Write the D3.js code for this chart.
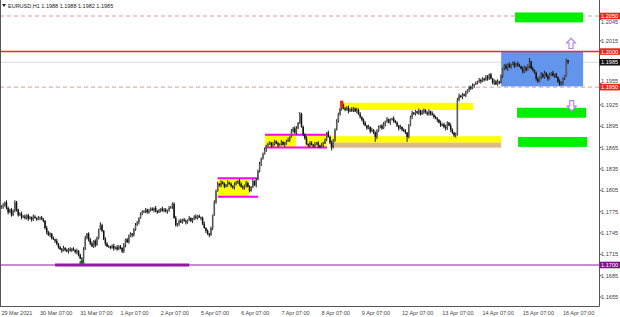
<!DOCTYPE html>
<html>
<head>
<meta charset="utf-8">
<script src="https://cdn.jsdelivr.net/npm/d3@7"></script>
<style>
  body { margin: 0; background: #fff; }
  svg { display: block; font-family: "Liberation Sans", Arial, sans-serif; }
</style>
</head>
<body>
<div id="chart"></div>
<script>
// EURUSD H1, 29 Mar 2021 08:00 .. 16 Apr 2021 10:00
const symbol = "EURUSD,H1";
const lastOHLC = [1.1988, 1.1988, 1.1982, 1.1985];

// hourly closes, in pips above 1.1700
const pipBase = 1.1700;
const firstOpen = 80;
const closePips = [
  82,84,88,80,74,78,70,76,88,78, 70,72,67,68,66,70,65,67,64,68,
  66,64,66,67,64,62,52,46,42,44, 38,36,34,30,25,22,20,24,21,19,
  22,20,23,21,18,20,14,9,8,22, 38,44,36,30,26,34,28,38,50,56,
  48,36,30,26,26,24,27,23,25,22, 26,24,19,28,36,32,40,44,42,50,
  56,60,66,72,74,76,78,74,76,79, 77,80,76,74,77,79,76,78,75,77,
  80,82,86,66,56,58,62,60,64,62, 60,63,66,62,64,68,66,69,67,66,
  58,52,48,44,42,52,70,88,104,114, 112,116,114,110,113,116,114,111,109,113,
  116,118,114,110,108,112,115,110,104,110, 118,112,120,132,142,150,156,162,168,170,
  172,168,170,174,171,168,170,173,169,171, 174,176,180,188,192,186,192,200,212,194,
  184,178,170,168,172,169,167,170,172,168, 166,169,171,176,186,180,172,165,176,190,
  202,212,220,226,220,218,221,216,219,217, 220,216,218,212,208,204,200,196,192,194,
  188,190,186,180,188,194,196,192,198,202, 205,200,204,206,202,200,196,192,194,190,
  188,186,180,196,208,214,212,216,214,217, 212,215,218,214,212,216,213,211,208,206,
  204,200,196,198,194,192,200,196,190,186, 182,184,232,238,236,240,238,242,246,250,
  248,252,254,256,258,260,258,262,260,264, 262,268,262,256,258,254,258,256,266,276,
  280,276,282,278,282,284,280,283,281,279, 276,272,278,274,280,286,276,274,270,262,
  258,264,268,264,270,266,262,268,270,266, 268,264,258,254,256,262,266,288,285
];
// wick lengths (pips) above / below the body, one digit per bar
const hiWick =
  "2313212232" + "1232312213" + "2131221322" + "1213122312" + "2312131223" +
  "3122312214" + "2132212313" + "2213123212" + "3212312132" + "2131213221" +
  "3122312312" + "2131223121" + "2312121323" + "1322131213" + "2132213221" +
  "3122312312" + "2132121312" + "2313233132" + "2131221312" + "1322132312" +
  "3213122313" + "2132312213" + "1312321231" + "3121322131" + "2312231213" +
  "1321231322" + "2131232132" + "1233121312" + "2312132213" + "3121323121" +
  "2313122132" + "1321251312" + "2132312213" + "121322120";
const loWick =
  "1322312123" + "2131223132" + "1213122313" + "2132213121" + "3121232153" +
  "1232123121" + "2131221312" + "1222312132" + "2131213221" + "1322131213" +
  "2131223121" + "3212312213" + "2132313121" + "2312131223" + "1231223121" +
  "2131232132" + "1322131213" + "2131223121" + "3212312213" + "2131212413" +
  "1223121312" + "2131223121" + "3127312213" + "2131212312" + "1272131223" +
  "2131223121" + "3121232132" + "2322131213" + "2131223121" + "3212312213" +
  "2131213221" + "1322131213" + "2131223121" + "312223213";

const timeLabels = ["29 Mar 2021", "30 Mar 07:00", "31 Mar 07:00", "1 Apr 07:00", "2 Apr 07:00",
  "5 Apr 07:00", "6 Apr 07:00", "7 Apr 07:00", "8 Apr 07:00", "9 Apr 07:00",
  "12 Apr 07:00", "13 Apr 07:00", "14 Apr 07:00", "15 Apr 07:00", "16 Apr 07:00"];
const timeLabelBars = [0, 23, 47, 71, 95, 119, 143, 167, 191, 215, 239, 263, 287, 311, 335];

const priceTicks = [1.1655, 1.1685, 1.1715, 1.1745, 1.1775, 1.1805, 1.1835, 1.1865,
  1.1895, 1.1925, 1.1955, 1.1985, 1.2015, 1.2045];

// horizontal levels
const dashedLevels = [1.2050, 1.1950];
const solidLevel = 1.2000;
const supportLevel = 1.1700;
const supportFrom = 32, supportTo = 112;
const bidPrice = 1.1985;

// rectangles: bar from/to, price top/bottom
const yellowBoxes = [
  [129, 147.7, 1.1822, 1.1796],
  [157.2, 194.2, 1.1883, 1.1865],
  [203.8, 281.4, 1.1928, 1.1918],
  [196, 298.1, 1.1881, 1.1872]
];
const tanBoxes = [[196, 298.1, 1.1872, 1.1865]];
const whiteBoxes = [[175.7, 181.1, 1.1882, 1.1866]];
const magentaBands = [
  [129, 153.1, 1.1822, 1.1796],
  [157.2, 194.2, 1.1883, 1.1865]
];
const blueBoxes = [[298.1, 347, 1.2000, 1.1951]];
const greenBoxes = [
  [306.4, 347, 1.2055, 1.2041],
  [307.6, 348.8, 1.1921, 1.1907],
  [308.2, 349.4, 1.1880, 1.1866]
];
const redMarks = [[202, 204, 1.1931, 1.1921]];
const lowMark = [48, 1.1703];
const upArrow = [339.8, 1.2019];
const downArrow = [340.2, 1.1931];

const W = 620, H = 317, plotR = 599.5, plotB = 306.5;

const bars = closePips.map((c, i) => {
  const o = i === 0 ? firstOpen : closePips[i - 1];
  const hi = Math.max(o, c) + +hiWick[i];
  const lo = Math.min(o, c) - +loWick[i];
  const p = v => pipBase + v / 10000;
  return { i, o: p(o), c: p(c), h: p(hi), l: p(lo) };
});

const x = d3.scaleLinear().domain([23, 335]).range([40, 563]);
const y = d3.scaleLinear().domain([1.1655, 1.2050]).range([297, 16]);

const svg = d3.select("#chart").append("svg")
  .attr("width", W).attr("height", H);

svg.append("rect").attr("width", W).attr("height", H).attr("fill", "#fff");

const plot = svg.append("g");

function boxes(list, fill) {
  plot.selectAll(null).data(list).enter().append("rect")
    .attr("x", d => x(d[0]))
    .attr("width", d => x(d[1]) - x(d[0]))
    .attr("y", d => y(d[2]))
    .attr("height", d => y(d[3]) - y(d[2]))
    .attr("fill", fill);
}

// dashed levels and bid line sit behind the objects
plot.selectAll(null).data(dashedLevels).enter().append("line")
  .attr("x1", 0).attr("x2", plotR)
  .attr("y1", d => y(d)).attr("y2", d => y(d))
  .attr("stroke", "#e09a9a").attr("stroke-width", 1)
  .attr("stroke-dasharray", "4,3");

plot.append("line")
  .attr("x1", 0).attr("x2", plotR)
  .attr("y1", y(bidPrice)).attr("y2", y(bidPrice))
  .attr("stroke", "#cfcfcf").attr("stroke-width", 0.8);

boxes(yellowBoxes, "#ffff00");
boxes(tanBoxes, "#deb887");
boxes(whiteBoxes, "#ffffff");
boxes(blueBoxes, "#6495ed");
boxes(greenBoxes, "#00ee00");

// magenta band edges
magentaBands.forEach(b => {
  [b[2], b[3]].forEach(p => {
    plot.append("line")
      .attr("x1", x(b[0])).attr("x2", x(b[1]))
      .attr("y1", y(p)).attr("y2", y(p))
      .attr("stroke", "#ff00ff").attr("stroke-width", 2);
  });
});

plot.append("line")
  .attr("x1", 0).attr("x2", plotR)
  .attr("y1", y(solidLevel)).attr("y2", y(solidLevel))
  .attr("stroke", "#e0301e").attr("stroke-width", 1.4);

plot.append("line")
  .attr("x1", 0).attr("x2", plotR)
  .attr("y1", y(supportLevel)).attr("y2", y(supportLevel))
  .attr("stroke", "#921ba2").attr("stroke-width", 1.2);

// low marker
plot.append("circle")
  .attr("cx", x(lowMark[0])).attr("cy", y(lowMark[1]))
  .attr("r", 2.6).attr("fill", "#1e8c1e");

// candles
const cg = plot.append("g");
cg.selectAll("line").data(bars).enter().append("line")
  .attr("x1", d => x(d.i)).attr("x2", d => x(d.i))
  .attr("y1", d => y(d.h)).attr("y2", d => y(d.l))
  .attr("stroke", "#1c1c1c").attr("stroke-width", 1);
cg.selectAll("rect").data(bars).enter().append("rect")
  .attr("x", d => x(d.i) - 0.75)
  .attr("width", 1.5)
  .attr("y", d => y(Math.max(d.o, d.c)))
  .attr("height", d => Math.max(0.6, Math.abs(y(d.o) - y(d.c))))
  .attr("fill", d => d.c >= d.o ? "#5a5a5a" : "#111");

// thick support segment
plot.append("line")
  .attr("x1", x(supportFrom)).attr("x2", x(supportTo))
  .attr("y1", y(supportLevel)).attr("y2", y(supportLevel))
  .attr("stroke", "#921ba2").attr("stroke-width", 3);

boxes(redMarks, "#e8281c");

// arrows
function arrow(cx, ty, dir) {
  const pts = [[0, 0], [4.5, 5], [2, 5], [2, 10.5], [-2, 10.5], [-2, 5], [-4.5, 5]];
  plot.append("path")
    .attr("d", d3.line()(pts.map(p => [cx + p[0], ty + dir * p[1]])) + "Z")
    .attr("fill", "#fff").attr("stroke", "#b07ef0").attr("stroke-width", 1.1);
}
arrow(x(upArrow[0]), y(upArrow[1]), 1);
arrow(x(downArrow[0]), y(downArrow[1]) + 10.5, -1);

// axes frame
svg.append("line").attr("x1", 0.5).attr("x2", 0.5).attr("y1", 0).attr("y2", plotB)
  .attr("stroke", "#555");
svg.append("line").attr("x1", plotR).attr("x2", plotR).attr("y1", 0).attr("y2", plotB)
  .attr("stroke", "#555");
svg.append("line").attr("x1", 0).attr("x2", plotR).attr("y1", plotB).attr("y2", plotB)
  .attr("stroke", "#555");

// price axis; labels right next to a tag are nudged off it
const tagPrices = dashedLevels.concat([solidLevel, supportLevel]);
function nudge(p) {
  for (const t of tagPrices) {
    const d = y(p) - y(t);
    if (d !== 0 && Math.abs(d) < 5) return d < 0 ? -2.2 : 2.2;
  }
  return 0;
}
const pa = svg.append("g").attr("font-size", 5.6).attr("fill", "#444");
pa.selectAll("line").data(priceTicks).enter().append("line")
  .attr("x1", plotR).attr("x2", plotR + 2)
  .attr("y1", d => y(d)).attr("y2", d => y(d))
  .attr("stroke", "#555");
pa.selectAll("text").data(priceTicks.filter(p => p !== bidPrice)).enter().append("text")
  .attr("x", 601).attr("y", d => y(d) + 2 + nudge(d))
  .text(d => d.toFixed(4));

function priceTag(p, bg) {
  svg.append("rect").attr("x", plotR).attr("y", y(p) - 3.3)
    .attr("width", W - plotR).attr("height", 6.6).attr("fill", bg);
  svg.append("text").attr("x", 601).attr("y", y(p) + 2)
    .attr("font-size", 5.6).attr("fill", "#fff").text(p.toFixed(4));
}
dashedLevels.concat([solidLevel]).forEach(p => priceTag(p, "#e8281c"));
priceTag(bidPrice, "#111");
priceTag(supportLevel, "#86108f");

// time axis
svg.append("g").attr("font-size", 5.5).attr("fill", "#444")
  .selectAll("text").data(timeLabels).enter().append("text")
  .attr("x", (d, k) => x(timeLabelBars[k]))
  .attr("y", 315)
  .text(d => d);

// header
svg.append("path").attr("d", "M2,4 L6,4 L4,7 Z").attr("fill", "#222");
svg.append("text").attr("x", 8).attr("y", 7.5)
  .attr("font-size", 5.5).attr("fill", "#222")
  .text(symbol + "  " + lastOHLC.map(v => v.toFixed(4)).join(" "));
</script>
</body>
</html>
